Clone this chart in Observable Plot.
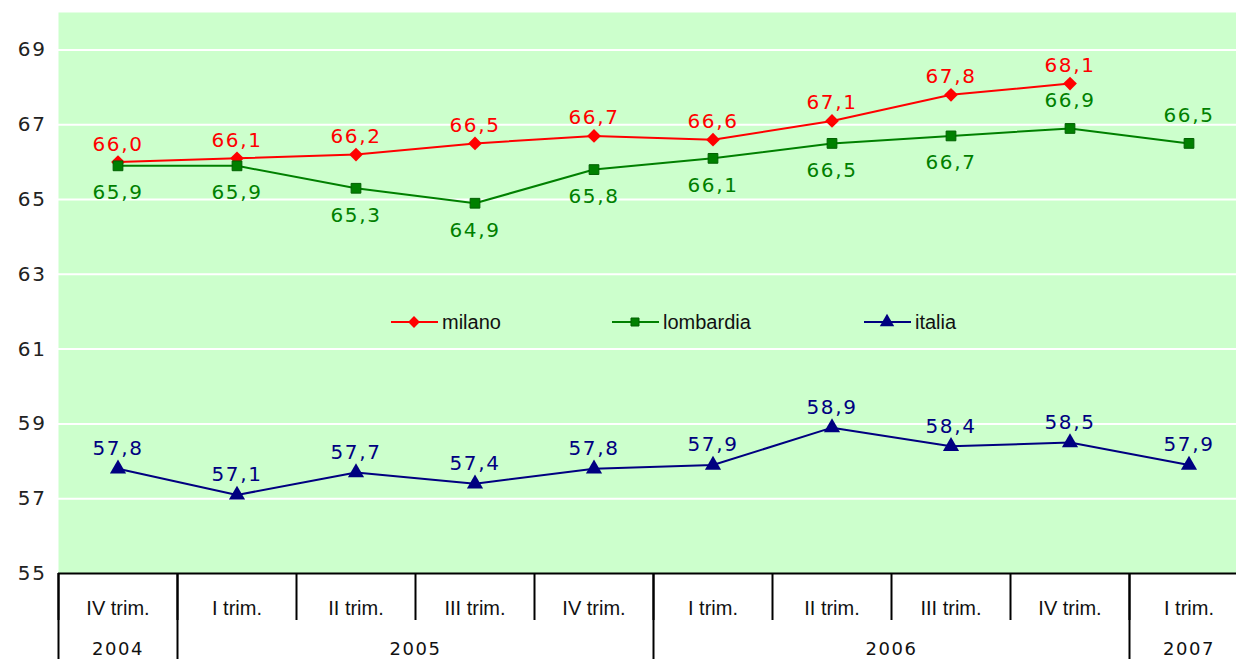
<!DOCTYPE html>
<html>
<head>
<meta charset="utf-8">
<script src="https://cdn.jsdelivr.net/npm/d3@7"></script>
<script src="https://cdn.jsdelivr.net/npm/@observablehq/plot@0.6"></script>
<style>
  html, body { margin: 0; padding: 0; background: #fff; overflow: hidden; width: 1236px; height: 659px; }
  #wrap { position: relative; width: 1248px; }
  .legend { position: absolute; top: 309px; font-family: "Liberation Sans", Arial, sans-serif; font-size: 20px; color: #111; display: flex; align-items: center; }
  .legend svg { display: block; }
</style>
</head>
<body>
<div id="wrap"></div>
<script>
// ---- data ----
const quarterLabels = ["IV trim.", "I trim.", "II trim.", "III trim.", "IV trim.", "I trim.", "II trim.", "III trim.", "IV trim.", "I trim."];
const yearLabels = ["2004", "2005", "2006", "2007"];
const yearSpans = [[0, 0], [1, 4], [5, 8], [9, 9]];
const milano = [66.0, 66.1, 66.2, 66.5, 66.7, 66.6, 67.1, 67.8, 68.1];
const lombardia = [65.9, 65.9, 65.3, 64.9, 65.8, 66.1, 66.5, 66.7, 66.9, 66.5];
const italia = [57.8, 57.1, 57.7, 57.4, 57.8, 57.9, 58.9, 58.4, 58.5, 57.9];
const yTicks = [55, 57, 59, 61, 63, 65, 67, 69];
const seriesNames = ["milano", "lombardia", "italia"];

const colors = {milano: "#ff0000", lombardia: "#008000", italia: "#000080"};
const toRows = (arr) => arr.map((v, i) => ({i, v}));
const fmt = (v) => v.toFixed(1).replace(".", ",");

const M = toRows(milano), L = toRows(lombardia), I = toRows(italia);
const lombAbove = (d) => d.i >= 8;

const innerBounds = d3.range(quarterLabels.length + 1).map(i => i - 0.5);
const yearBounds = [yearSpans[0][0] - 0.5, ...yearSpans.map(s => s[1] + 0.5)];
const yearCenters = yearSpans.map(s => (s[0] + s[1]) / 2);

const valueFont = {fontFamily: "DejaVu Sans, Verdana, sans-serif", fontSize: 20};

const chart = Plot.plot({
  width: 1248,
  height: 720,
  marginLeft: 58,
  marginRight: 0,
  marginTop: 12,
  marginBottom: 147,
  x: {type: "linear", domain: [-0.5, quarterLabels.length - 0.5]},
  y: {domain: [55, 70]},
  style: {background: "transparent", overflow: "visible"},
  marks: [
    Plot.frame({fill: "#ccffcc", stroke: null}),
    Plot.ruleY(yTicks.filter(t => t > 55), {stroke: "#ffffff", strokeWidth: 2}),
    Plot.ruleY([55], {stroke: "#000", strokeWidth: 2}),
    Plot.axisY({ticks: yTicks, tickSize: 0, tickPadding: 12, tickFormat: d => String(d),
      fontSize: 20, fontFamily: "DejaVu Sans, Verdana, sans-serif", fill: "#222", label: null, className: "spaced"}),
    // category table
    Plot.axisX({ticks: innerBounds, tickSize: 47, tickFormat: () => "", stroke: "#000", strokeWidth: 2, label: null}),
    Plot.axisX({ticks: yearBounds, tickSize: 110, tickFormat: () => "", stroke: "#000", strokeWidth: 2, label: null}),
    Plot.axisX({ticks: d3.range(quarterLabels.length), tickSize: 0, tickPadding: 27,
      tickFormat: i => quarterLabels[i], fontSize: 20, fontFamily: "Liberation Sans, Arial, sans-serif", fill: "#111", label: null}),
    Plot.axisX({ticks: yearCenters, tickSize: 0, tickPadding: 69,
      tickFormat: (c) => yearLabels[yearCenters.indexOf(c)], fontSize: 18, fontFamily: "DejaVu Sans, Verdana, sans-serif", fill: "#111", label: null, className: "spaced"}),
    // series
    Plot.line(M, {x: "i", y: "v", stroke: colors.milano, strokeWidth: 2}),
    Plot.line(L, {x: "i", y: "v", stroke: colors.lombardia, strokeWidth: 2}),
    Plot.line(I, {x: "i", y: "v", stroke: colors.italia, strokeWidth: 2}),
    Plot.dot(M, {x: "i", y: "v", symbol: "square", rotate: 45, r: 5.5, fill: colors.milano}),
    Plot.dot(L, {x: "i", y: "v", symbol: "square", r: 5.5, fill: colors.lombardia, stroke: "#006000", strokeWidth: 1}),
    Plot.dot(I, {x: "i", y: "v", symbol: "triangle", r: 6, fill: colors.italia}),
    Plot.text(M, {x: "i", y: "v", text: d => fmt(d.v), dy: -18, fill: colors.milano, ...valueFont, className: "spaced"}),
    Plot.text(L.filter(d => !lombAbove(d)), {x: "i", y: "v", text: d => fmt(d.v), dy: 27, fill: colors.lombardia, ...valueFont, className: "spaced"}),
    Plot.text(L.filter(lombAbove), {x: "i", y: "v", text: d => fmt(d.v), dy: -28, fill: colors.lombardia, ...valueFont, className: "spaced"}),
    Plot.text(I, {x: "i", y: "v", text: d => fmt(d.v), dy: -20, fill: colors.italia, ...valueFont, className: "spaced"})
  ]
});
chart.querySelectorAll("g.spaced text, g[class*='spaced'] text").forEach(t => t.setAttribute("letter-spacing", "1.6"));

const wrap = document.getElementById("wrap");
wrap.appendChild(chart);

// legend (inside plot)
const legendPos = {milano: 390, lombardia: 611, italia: 863};
seriesNames.forEach(name => {
  const div = document.createElement("div");
  div.className = "legend";
  div.style.left = legendPos[name] + "px";
  const s = d3.create("svg").attr("width", 50).attr("height", 26);
  s.append("line").attr("x1", 1).attr("x2", 48).attr("y1", 13).attr("y2", 13)
    .attr("stroke", colors[name]).attr("stroke-width", 2);
  const sym = name === "italia" ? d3.symbolTriangle : d3.symbolSquare;
  s.append("path").attr("d", d3.symbol(sym, name === "lombardia" ? 64 : name === "milano" ? 70 : 90)())
    .attr("transform", "translate(24,13)" + (name === "milano" ? " rotate(45)" : ""))
    .attr("fill", colors[name])
    .attr("stroke", name === "lombardia" ? "#006000" : "none");
  div.appendChild(s.node());
  const span = document.createElement("span");
  span.textContent = name;
  span.style.marginLeft = "2px";
  div.appendChild(span);
  wrap.appendChild(div);
});
</script>
</body>
</html>
